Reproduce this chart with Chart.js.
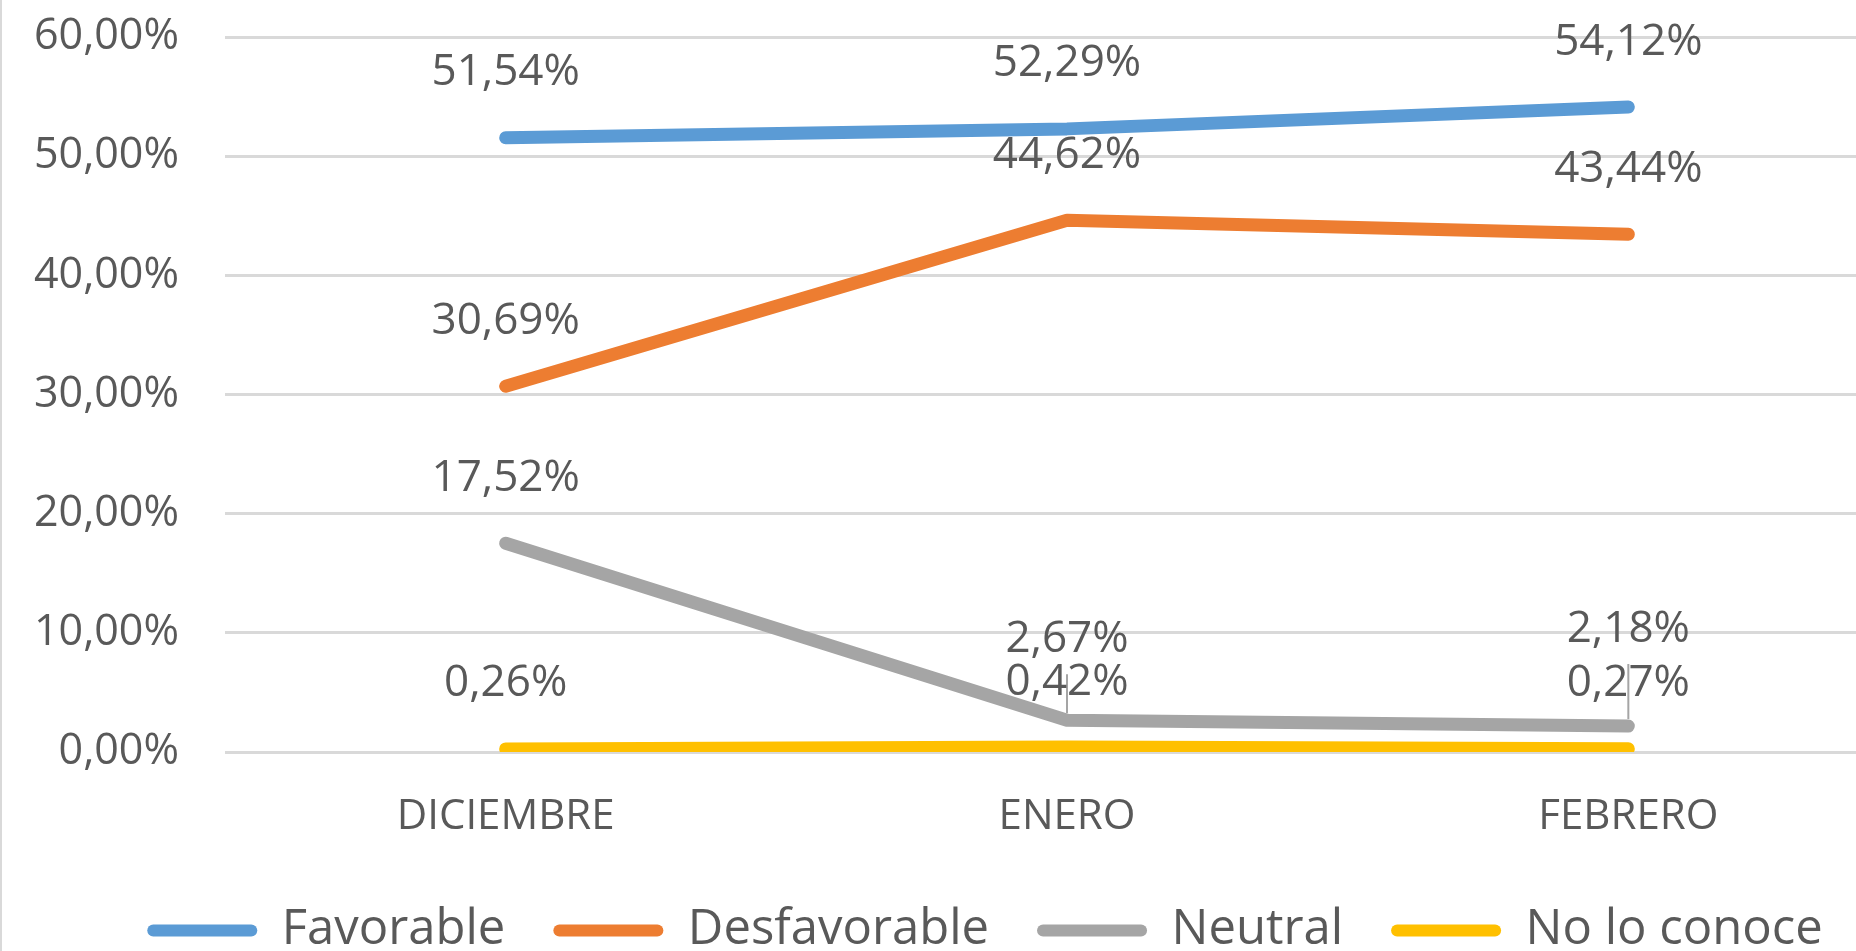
<!DOCTYPE html>
<html lang="es">
<head>
<meta charset="utf-8">
<title>Favorable / Desfavorable</title>
<script src="https://cdn.jsdelivr.net/npm/chart.js@4.4.1/dist/chart.umd.min.js"></script>
<style>
    html, body { margin: 0; padding: 0; background: #fff; overflow: hidden; }
    .chart-wrap { width: 1930px; height: 966px; border-left: 2px solid #d9d9d9; }
</style>
</head>
<body>
<div class="chart-wrap"><canvas id="opinionChart" width="1930" height="966"></canvas></div>
<script>
// Datos del gráfico
const meses = ['DICIEMBRE', 'ENERO', 'FEBRERO'];
const favorable = [51.54, 52.29, 54.12];
const desfavorable = [30.69, 44.62, 43.44];
const neutral = [17.52, 2.67, 2.18];
const noLoConoce = [0.26, 0.42, 0.27];
const yTicks = [0, 10, 20, 30, 40, 50, 60];
const yTickLabels = ['0,00%', '10,00%', '20,00%', '30,00%', '40,00%', '50,00%', '60,00%'];

const TEXT_COLOR = '#595959';
const FONT = 'Open Sans';
const AREA_BOTTOM = 752;   // borde inferior del área de trazado
const PAD_BOTTOM = 1;

// Formato de porcentaje con coma decimal
function formatPct(value) {
    return value.toFixed(2).replace('.', ',') + '%';
}

// Etiquetas de datos encima de cada punto
const etiquetasPlugin = {
    id: 'etiquetas',
    afterDatasetsDraw(chart, args, opts) {
        const ctx = chart.ctx;
        ctx.save();
        ctx.font = `${opts.size}px "${FONT}"`;
        ctx.fillStyle = TEXT_COLOR;
        ctx.textAlign = 'center';
        ctx.textBaseline = 'middle';
        chart.data.datasets.forEach((ds, i) => {
            chart.getDatasetMeta(i).data.forEach((pt, j) => {
                const key = i + '-' + j;
                const y = pt.y - (opts.desplazamientos[key] || opts.offset);
                if (opts.guias.includes(key)) {
                    ctx.strokeStyle = '#a5a5a5';
                    ctx.lineWidth = 2;
                    ctx.beginPath();
                    ctx.moveTo(pt.x, y + 35);
                    ctx.lineTo(pt.x, pt.y - 7);
                    ctx.stroke();
                }
                ctx.fillText(formatPct(ds.data[j]), pt.x, y);
            });
        });
        ctx.restore();
    }
};

// Centrar la leyenda como en el original
const leyendaPlugin = {
    id: 'moverLeyenda',
    afterLayout(chart, args, opts) {
        chart.legend.left += opts.dx;
        chart.legend.right += opts.dx;
    }
};

function serie(label, data, color) {
    return {
        label: label,
        data: data,
        borderColor: color,
        backgroundColor: color,
        borderWidth: 13,
        borderCapStyle: 'round',
        borderJoinStyle: 'round',
        pointRadius: 0,
        tension: 0
    };
}

document.addEventListener('DOMContentLoaded', function() {
    const ctx = document.getElementById('opinionChart').getContext('2d');
    new Chart(ctx, {
        type: 'line',
        data: {
            labels: meses,
            datasets: [
                serie('Favorable', favorable, '#5b9bd5'),
                serie('Desfavorable', desfavorable, '#ed7d31'),
                serie('Neutral', neutral, '#a5a5a5'),
                serie('No lo conoce', noLoConoce, '#ffc000')
            ]
        },
        options: {
            responsive: false,
            animation: false,
            layout: {
                padding: { left: 23, right: 23, top: 37, bottom: PAD_BOTTOM }
            },
            plugins: {
                tooltip: { enabled: false },
                legend: {
                    position: 'bottom',
                    labels: {
                        boxWidth: 110,
                        boxHeight: 12,
                        padding: 48,
                        color: TEXT_COLOR,
                        font: { family: FONT, size: 49 },
                        generateLabels(chart) {
                            return chart.data.datasets.map((ds, i) => ({
                                text: ds.label,
                                fillStyle: ds.borderColor,
                                strokeStyle: ds.borderColor,
                                lineWidth: 0,
                                borderRadius: 6,
                                fontColor: TEXT_COLOR,
                                hidden: false,
                                datasetIndex: i
                            }));
                        }
                    }
                },
                moverLeyenda: { dx: 18 },
                etiquetas: {
                    size: 44,
                    offset: 65,
                    desplazamientos: { '2-1': 81, '2-2': 97 },
                    guias: ['2-1', '2-2']
                }
            },
            scales: {
                x: {
                    offset: true,
                    grid: { display: false, drawTicks: false },
                    border: { display: false },
                    ticks: {
                        padding: 40,
                        color: TEXT_COLOR,
                        font: { family: FONT, size: 42 }
                    },
                    afterFit(scale) {
                        // espacio fijo bajo el área del gráfico
                        scale.height = scale.chart.height - PAD_BOTTOM - AREA_BOTTOM - scale.chart.legend.height;
                    }
                },
                y: {
                    min: 0,
                    max: 60,
                    grid: {
                        color: '#d9d9d9',
                        lineWidth: 3,
                        drawTicks: true,
                        tickLength: 46,
                        tickColor: 'rgba(0,0,0,0)'
                    },
                    border: { display: false },
                    ticks: {
                        stepSize: 10,
                        padding: 0,
                        color: TEXT_COLOR,
                        font: { family: FONT, size: 43 },
                        callback: value => yTickLabels[yTicks.indexOf(value)]
                    },
                    afterFit(scale) {
                        scale.width = 200;
                    }
                }
            }
        },
        plugins: [etiquetasPlugin, leyendaPlugin]
    });
});
</script>
</body>
</html>
